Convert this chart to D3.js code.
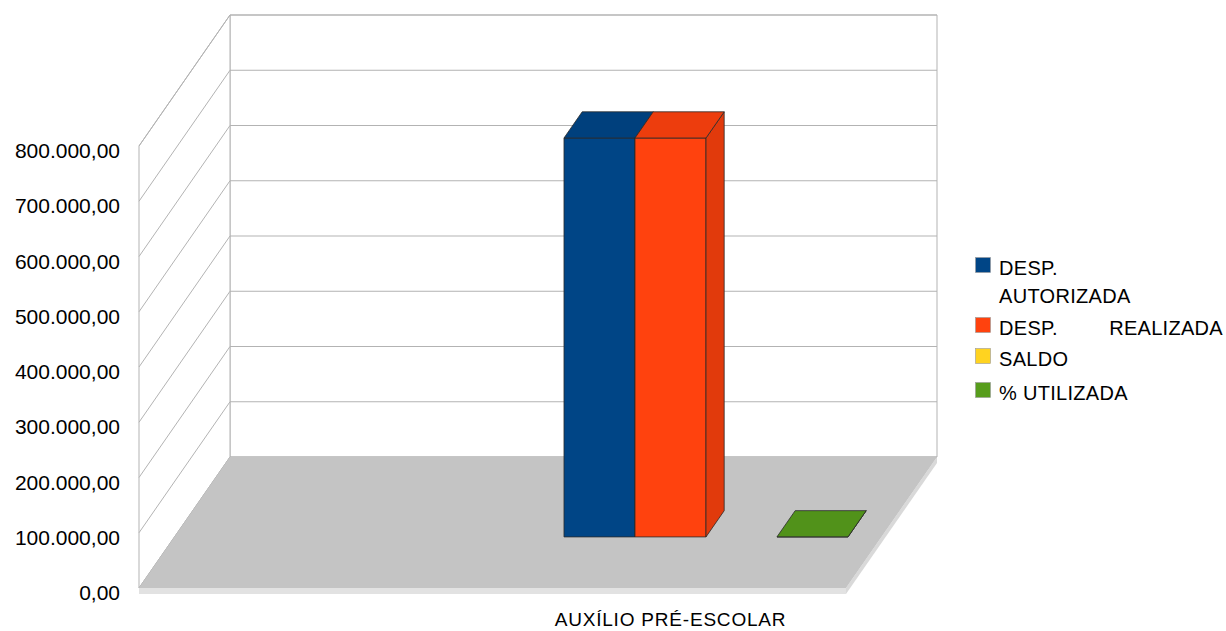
<!DOCTYPE html>
<html>
<head>
<meta charset="utf-8">
<script src="https://cdn.jsdelivr.net/npm/d3@7"></script>
<style>
  html, body { margin: 0; padding: 0; background: #fff; }
  svg { display: block; }
  text { font-family: "Liberation Sans", Arial, sans-serif; fill: #000; }
</style>
</head>
<body>
<svg id="chart" width="1226" height="631"></svg>
<script>
// ---- data ----
const categories = ["AUXÍLIO PRÉ-ESCOLAR"];
const seriesNames = ["DESP. AUTORIZADA", "DESP. REALIZADA", "SALDO", "% UTILIZADA"];
const seriesColors = ["#004586", "#ff420e", "#ffd320", "#579d1c"];
const values = [722000, 722000, 0, 100];
const yTicks = [0, 100000, 200000, 300000, 400000, 500000, 600000, 700000, 800000];

// ---- layout ----
const front = { left: 139, right: 846, bottom: 588, top: 146 };
const depthShift = { dx: 91, dy: 131 };      // oblique offset of the full floor depth
const barDepth = [0.39, 0.59];                // bar slab position along depth (0 = front, 1 = back)
const groupRange = [528.5, 812.5];            // series band on the front plane

const svg = d3.select("#chart");

const y = d3.scaleLinear().domain([0, 800000]).range([front.bottom, front.top]);
const groupMid = (groupRange[0] + groupRange[1]) / 2;
const xCat = d3.scalePoint().domain(categories).range([groupMid, groupMid]);
const xSeries = d3.scaleBand().domain(seriesNames).range(groupRange).padding(0);

// oblique projection: front-plane x, data value, depth fraction
function P(x, v, d) {
  return [x + d * depthShift.dx, y(v) - d * depthShift.dy];
}
const line = pts => "M" + pts.map(p => p.join(",")).join("L") + "Z";

const fmt = d3.formatLocale({ decimal: ",", thousands: ".", grouping: [3], currency: ["R$", ""] }).format(",.2f");

const gridColor = "#b3b3b3";
const walls = svg.append("g");

// back wall
walls.append("path")
  .attr("d", line([P(front.left, 0, 1), P(front.right, 0, 1), P(front.right, 800000, 1), P(front.left, 800000, 1)]))
  .attr("fill", "#fff").attr("stroke", gridColor).attr("stroke-width", 1);
// left wall
walls.append("path")
  .attr("d", line([P(front.left, 0, 0), P(front.left, 0, 1), P(front.left, 800000, 1), P(front.left, 800000, 0)]))
  .attr("fill", "#fff").attr("stroke", gridColor).attr("stroke-width", 1);

// grid lines on both walls
yTicks.forEach(t => {
  const a = P(front.left, t, 0), b = P(front.left, t, 1), c = P(front.right, t, 1);
  walls.append("path").attr("d", `M${a}L${b}L${c}`)
    .attr("fill", "none").attr("stroke", gridColor).attr("stroke-width", 1);
});

// floor slab
const slab = 6;
const fl = P(front.left, 0, 0), fr = P(front.right, 0, 0), br = P(front.right, 0, 1);
walls.append("path")
  .attr("d", line([fl, fr, [fr[0], fr[1] + slab], [fl[0], fl[1] + slab]]))
  .attr("fill", "#e2e2e2");
walls.append("path")
  .attr("d", line([fr, br, [br[0], br[1] + slab], [fr[0], fr[1] + slab]]))
  .attr("fill", "#d9d9d9");
walls.append("path")
  .attr("d", line([fl, fr, br, P(front.left, 0, 1)]))
  .attr("fill", "#c4c4c4");

// ---- bars ----
const bars = svg.append("g");
const edge = "#2b2b2b";
seriesNames.forEach((s, i) => {
  const v = values[i];
  if (v <= 0) return;
  const x0 = xSeries(s), x1 = x0 + xSeries.bandwidth();
  const [d0, d1] = barDepth;
  const col = d3.color(seriesColors[i]);
  const g = bars.append("g");
  // front face
  g.append("path").attr("d", line([P(x0, 0, d0), P(x1, 0, d0), P(x1, v, d0), P(x0, v, d0)]))
    .attr("fill", col.formatHex()).attr("stroke", edge).attr("stroke-width", 0.8);
  // right side face
  g.append("path").attr("d", line([P(x1, 0, d0), P(x1, 0, d1), P(x1, v, d1), P(x1, v, d0)]))
    .attr("fill", col.darker(0.35).formatHex()).attr("stroke", edge).attr("stroke-width", 0.8);
  // top face
  g.append("path").attr("d", line([P(x0, v, d0), P(x1, v, d0), P(x1, v, d1), P(x0, v, d1)]))
    .attr("fill", col.darker(0.2).formatHex()).attr("stroke", edge).attr("stroke-width", 0.8);
});

// ---- y axis labels ----
svg.append("g").selectAll("text").data(yTicks).join("text")
  .attr("x", 120).attr("y", d => y(d) + 12)
  .attr("text-anchor", "end")
  .style("font-size", "21px")
  .text(d => fmt(d));

// ---- category label ----
svg.append("g").selectAll("text").data(categories).join("text")
  .attr("x", d => xCat(d)).attr("y", 626)
  .attr("text-anchor", "middle")
  .style("font-size", "19px").style("letter-spacing", "0.8px")
  .text(d => d);

// ---- legend ----
const legend = [
  { i: 0, top: 257, lines: [{ x: 999, y: 275, t: "DESP." }, { x: 999, y: 303, t: "AUTORIZADA" }] },
  { i: 1, top: 317, lines: [{ x: 999, y: 335, t: "DESP." }, { x: 1223, y: 335, t: "REALIZADA", end: true }] },
  { i: 2, top: 348, lines: [{ x: 999, y: 366, t: "SALDO" }] },
  { i: 3, top: 382, lines: [{ x: 999, y: 400, t: "% UTILIZADA" }] }
];
const lg = svg.append("g");
legend.forEach(item => {
  lg.append("rect").attr("x", 975.5).attr("y", item.top + 0.5).attr("width", 15).attr("height", 15)
    .attr("fill", seriesColors[item.i]).attr("stroke", "#9a9a9a").attr("stroke-width", 0.6);
  item.lines.forEach(l => {
    lg.append("text").attr("x", l.x).attr("y", l.y)
      .attr("text-anchor", l.end ? "end" : "start")
      .style("font-size", "20px").style("letter-spacing", "0.3px")
      .text(l.t);
  });
});
</script>
</body>
</html>
